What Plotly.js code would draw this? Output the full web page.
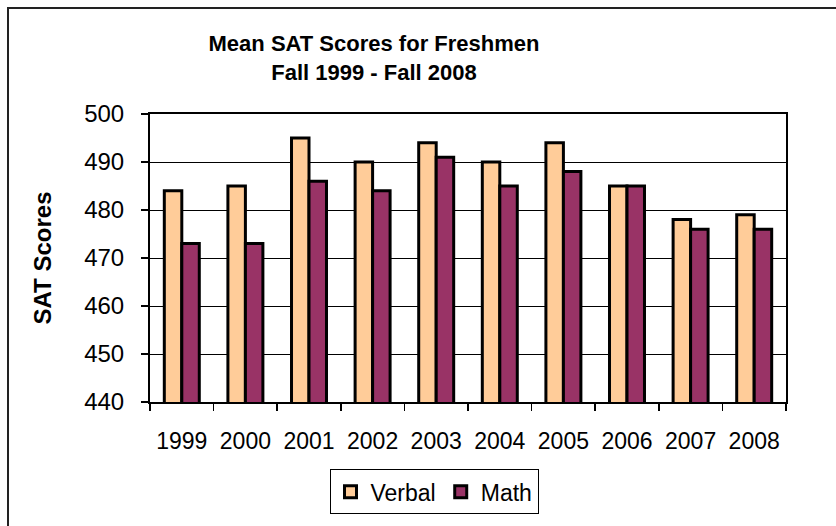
<!DOCTYPE html>
<html>
<head>
<meta charset="utf-8">
<script src="https://cdn.plot.ly/plotly-3.0.1.min.js"></script>
<style>html,body{margin:0;padding:0;background:#fff;}#chart{width:836px;height:526px;}</style>
</head>
<body>
<div id="chart"></div>
<script>
const years = ["1999","2000","2001","2002","2003","2004","2005","2006","2007","2008"];
const verbal = [484, 485, 495, 490, 494, 490, 494, 485, 478, 479];
const math = [473, 473, 486, 484, 491, 485, 488, 485, 476, 476];
const yTicks = [440, 450, 460, 470, 480, 490, 500];

const font = "Liberation Sans, Arial, sans-serif";
const traces = [
  {type:"bar", name:"Verbal", x:years, y:verbal,
   marker:{color:"#FFCC99", line:{color:"#000", width:3}}},
  {type:"bar", name:"Math", x:years, y:math,
   marker:{color:"#993366", line:{color:"#000", width:3}}}
];

const PL = 150, PR = 786, PT = 114, PB = 405;
const pw = PR - PL, ph = PB - PT;
const px = v => (v - PL) / pw;
const py = v => (PB - v) / ph;

const layout = {
  width:836, height:526,
  margin:{l:PL, r:836-PR, t:PT, b:526-PB, pad:0},
  paper_bgcolor:"#fff", plot_bgcolor:"#fff",
  font:{family:font, size:24, color:"#000"},
  barmode:"group", bargap:0.45, bargroupgap:0,
  showlegend:true,
  legend:{orientation:"h", x:px(434), xanchor:"center", y:py(473), yanchor:"top",
          bordercolor:"#000", borderwidth:1, font:{family:font, size:23},
          itemwidth:30, traceorder:"normal"},
  xaxis:{type:"category", tickson:"boundaries", ticks:"outside", ticklen:7, tickwidth:1.5, tickcolor:"#000",
         showline:true, linecolor:"#000", linewidth:2, mirror:true, showgrid:false,
         tickfont:{family:font, size:23}, ticklabelstandoff:17},
  yaxis:{range:[440,500], tickvals:yTicks, ticktext:yTicks.map(String), ticks:"outside", ticklen:7, tickwidth:1.5, tickcolor:"#000",
         showline:true, linecolor:"#000", linewidth:2, mirror:true,
         showgrid:true, gridcolor:"#000", gridwidth:1, zeroline:false,
         tickfont:{family:font, size:24}, ticklabelstandoff:12,
         title:{text:"<b>SAT Scores</b>", font:{family:font, size:24}, standoff:26}},
  title:{text:"<b>Mean SAT Scores for Freshmen<br>Fall 1999 - Fall 2008</b>", font:{family:font, size:22},
         x:374/836, xanchor:"center", xref:"container", y:1-51/526, yanchor:"top"},
  shapes:[
    {type:"rect", xref:"paper", yref:"paper",
     x0:px(8), x1:px(850), y0:py(540), y1:py(7),
     line:{color:"#222", width:2}, fillcolor:"rgba(0,0,0,0)", layer:"below"}
  ]
};
Plotly.newPlot("chart", traces, layout, {displayModeBar:false, staticPlot:true});
</script>
</body>
</html>
